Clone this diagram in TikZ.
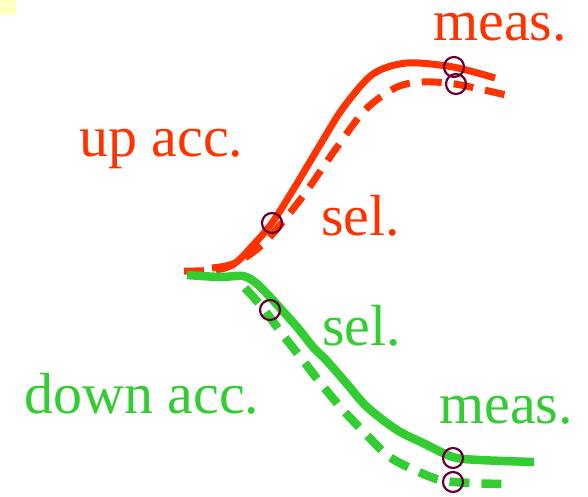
\documentclass[tikz,border=0pt]{standalone}
\usepackage{fontspec}
\setmainfont{Liberation Serif}
\definecolor{pistaRoja}{HTML}{FF3300}
\definecolor{pistaVerde}{HTML}{33CC33}
\definecolor{marcaVino}{HTML}{660033}
\definecolor{notaAmarilla}{HTML}{FFFFC0}
\usetikzlibrary{
	positioning
}
\tikzset{
	etiqueta/.style={
		anchor=base west,
		inner sep=0pt,
		font=\fontsize{58}{62}\selectfont
	},
	trazaRoja/.style={
		draw=pistaRoja,
		line width=7pt,
		line join=round
	},
	trazaVerde/.style={
		draw=pistaVerde,
		line width=8.5pt,
		line join=round
	},
	discontinua/.style={
		dash pattern=on 20pt off 12pt
	},
	marca/.style={
		circle,
		draw=marcaVino,
		line width=2.2pt,
		minimum size=20pt,
		inner sep=0pt
	}
}
\begin{document}
\begin{tikzpicture}[x=1pt, y=-1pt]
		\useasboundingbox (0,0) rectangle (588,496);
		\fill[notaAmarilla] (0,0) rectangle (16,15);
		% pista de arriba
		\draw[trazaRoja, discontinua] plot[smooth, tension=0.5] coordinates {(184,271) (225,268) (262,245) (300,200) (335,150) (365,110) (395,88) (420,82) (455,84) (506,95)};
		\draw[trazaRoja] plot[smooth, tension=0.5] coordinates {(212,268) (235,263) (255,243) (272,223) (293,190) (320,145) (343,108) (373,74) (407,63) (453,67) (495,78)};
		% pista de abajo
		\draw[trazaVerde, discontinua] plot[smooth, tension=0.5] coordinates {(245,288) (262,307) (283,335) (305,363) (322,385) (343,410) (362,430) (387,455) (410,468) (440,480) (470,483) (503,484)};
		\draw[trazaVerde] plot[smooth, tension=0.5] coordinates {(187,275) (220,277) (243,276) (256,283) (270,297) (297,327) (313,347) (327,361) (347,384) (367,407) (397,430) (423,443) (453,457) (480,460) (534,462)};
		% marcas
		\node[marca] (selArriba) at (272,223) {};
		\node[marca] (medArriba) at (454,67) {};
		\node[marca] (medArribaB) at (456,84) {};
		\node[marca] (selAbajo) at (270,310) {};
		\node[marca] (medAbajo) at (453,458) {};
		\node[marca] (medAbajoB) at (453,482) {};
		% etiquetas
		\node[etiqueta, text=pistaRoja] (txtMedArriba) at (433,40) {meas.};
		\node[etiqueta, text=pistaRoja] (txtAcArriba) at (79,156) {up acc.};
		\node[etiqueta, text=pistaRoja] (txtSelArriba) at (321,235) {sel.};
		\node[etiqueta, text=pistaVerde] (txtSelAbajo) at (322,345) {sel.};
		\node[etiqueta, text=pistaVerde] (txtAcAbajo) at (24,413) {down acc.};
		\node[etiqueta, text=pistaVerde] (txtMedAbajo) at (439,423) {meas.};
	\end{tikzpicture}
\end{document}
